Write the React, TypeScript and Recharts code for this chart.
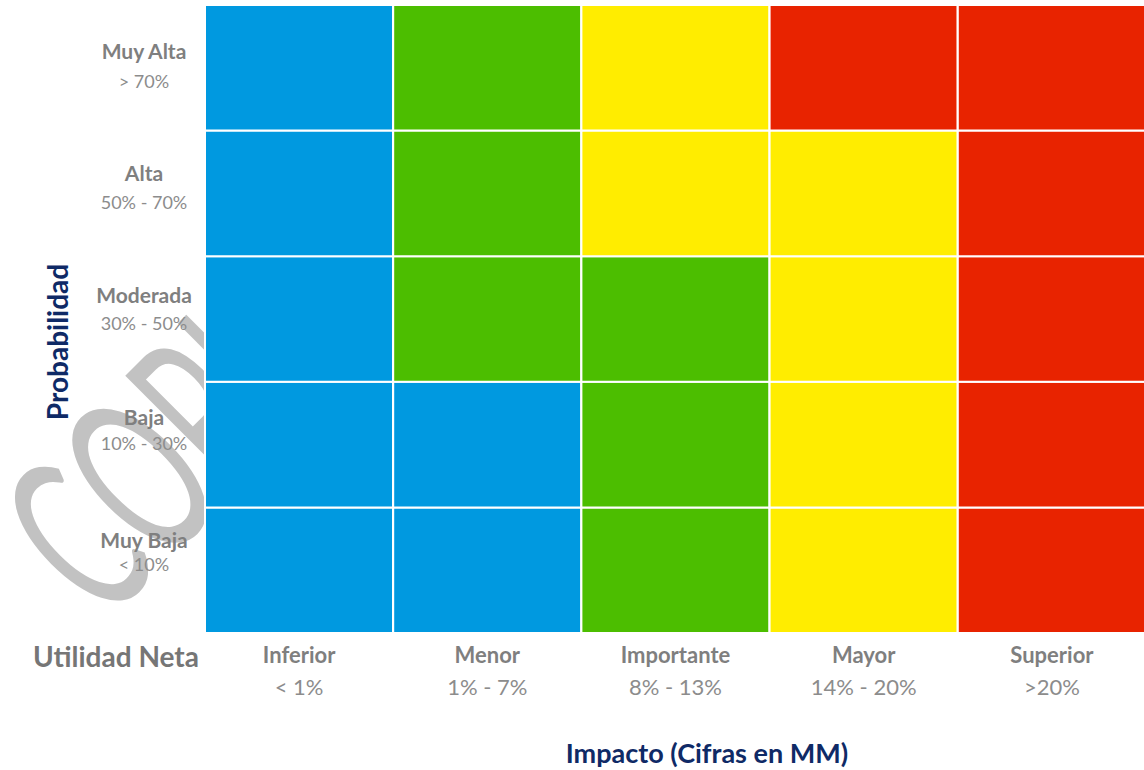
import React from 'react';
import { BarChart, Bar, XAxis, YAxis, Cell } from 'recharts';

// Impacto (columns, left to right)
const impactLabels = ['Inferior', 'Menor', 'Importante', 'Mayor', 'Superior'];
const impactRanges = ['< 1%', '1% - 7%', '8% - 13%', '14% - 20%', '>20%'];

// Probabilidad (rows, bottom to top)
const probLabels = ['Muy Baja', 'Baja', 'Moderada', 'Alta', 'Muy Alta'];
const probRanges = ['< 10%', '10% - 30%', '30% - 50%', '50% - 70%', '> 70%'];
const probTicks = [0.5, 1.5, 2.5, 3.5, 4.5];

// risk level of each cell, one list per probability row, one entry per impact column
const muyBajaLevels = [1, 1, 2, 3, 4];
const bajaLevels = [1, 1, 2, 3, 4];
const moderadaLevels = [1, 2, 2, 3, 4];
const altaLevels = [1, 2, 3, 3, 4];
const muyAltaLevels = [1, 2, 3, 4, 4];
const rowLevels = [muyBajaLevels, bajaLevels, moderadaLevels, altaLevels, muyAltaLevels];

// every row is one unit tall
const rowHeights = [1, 1, 1, 1, 1];

const levelColors: Record<number, string> = {
  1: '#0099E0',
  2: '#4CBE00',
  3: '#FFED00',
  4: '#E82300',
};

const FONT = 'Lato, "Open Sans", sans-serif';

const data = impactLabels.map((name) => {
  const row: Record<string, any> = { name };
  rowHeights.forEach((h, r) => {
    row[`r${r}`] = h;
  });
  return row;
});

const ImpactTick = (props: any) => {
  const { x, y, payload, index } = props;
  return (
    <g>
      <text x={x} y={y + 21} textAnchor="middle" dominantBaseline="central" fontFamily={FONT} fontWeight={700} fontSize={22} fill="#7f7f7f">
        {payload.value}
      </text>
      <text x={x} y={y + 53} textAnchor="middle" dominantBaseline="central" fontFamily={FONT} fontSize={22} fill="#8c8c8c">
        {impactRanges[index]}
      </text>
    </g>
  );
};

// labels in the original sit a little tighter than the rows, drifting up towards the bottom
const ProbTick = (props: any) => {
  const { x, y, index } = props;
  const fromTop = probLabels.length - 1 - index;
  return (
    <g>
      <text x={x - 61} y={y - 17.5 - fromTop * 3.4} textAnchor="middle" dominantBaseline="central" fontFamily={FONT} fontWeight={700} fontSize={21} fill="#7f7f7f">
        {probLabels[index]}
      </text>
      <text x={x - 61} y={y + 13.5 - fromTop * 5} textAnchor="middle" dominantBaseline="central" fontFamily={FONT} fontSize={18} fill="#8c8c8c">
        {probRanges[index]}
      </text>
    </g>
  );
};

export default function App() {
  return (
    <div style={{ position: 'relative', width: 1144, height: 770, background: '#fff', overflow: 'hidden' }}>
      <style>{'body{margin:0}'}</style>
      <svg width={1144} height={770} style={{ position: 'absolute', left: 0, top: 0 }}>
        <text
          transform="translate(104,625) rotate(-45) scale(0.55,1)"
          fontFamily={FONT}
          fontSize={225}
          fill="#c2c2c2"
        >
          COPIA
        </text>
        <text x={116} y={656} textAnchor="middle" dominantBaseline="central" fontFamily={FONT} fontWeight={700} fontSize={28} fill="#767676">
          Utilidad Neta
        </text>
        <text
          transform="translate(57,342) rotate(-90)"
          textAnchor="middle"
          dominantBaseline="central"
          fontFamily={FONT}
          fontWeight={700}
          fontSize={28}
          fill="#0f2a66"
        >
          Probabilidad
        </text>
        <text x={707} y={752} textAnchor="middle" dominantBaseline="central" fontFamily={FONT} fontWeight={700} fontSize={27} fill="#0f2a66">
          Impacto (Cifras en MM)
        </text>
      </svg>
      <div style={{ position: 'absolute', left: 0, top: 0 }}>
        <BarChart
          width={1146}
          height={770}
          data={data}
          margin={{ top: 5, right: 0, left: 0, bottom: 0 }}
          barCategoryGap={0}
          barGap={0}
        >
          <XAxis
            dataKey="name"
            axisLine={false}
            tickLine={false}
            tickSize={0}
            tickMargin={0}
            height={137}
            interval={0}
            tick={<ImpactTick />}
          />
          <YAxis
            type="number"
            domain={[0, 5]}
            ticks={probTicks}
            axisLine={false}
            tickLine={false}
            tickSize={0}
            tickMargin={0}
            width={205}
            interval={0}
            tick={<ProbTick />}
          />
          {rowLevels.map((levels, r) => (
            <Bar key={r} dataKey={`r${r}`} stackId="risk" stroke="#ffffff" strokeWidth={2} isAnimationActive={false}>
              {levels.map((lv, c) => (
                <Cell key={c} fill={levelColors[lv]} />
              ))}
            </Bar>
          ))}
        </BarChart>
      </div>
    </div>
  );
}
